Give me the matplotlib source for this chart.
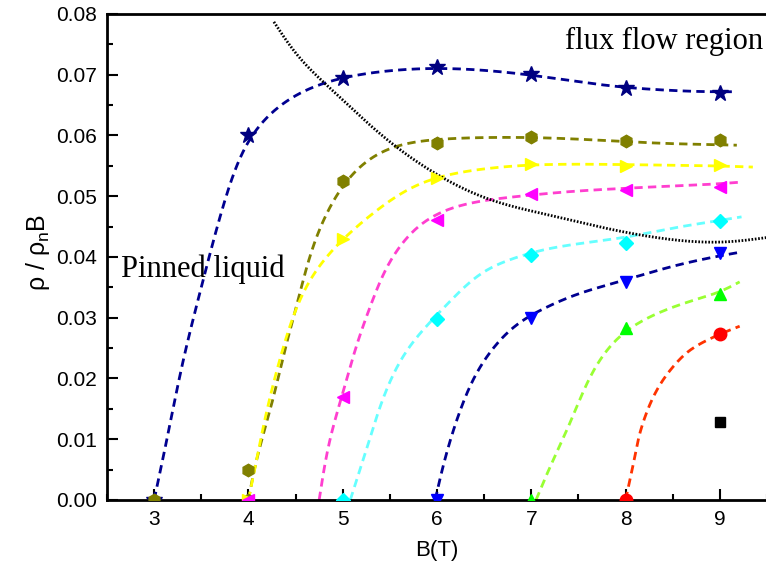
import numpy as np
import matplotlib
matplotlib.use("Agg")
import matplotlib.pyplot as plt
from matplotlib.ticker import MultipleLocator, FormatStrFormatter

plt.rcParams['font.family'] = ['Liberation Sans', 'DejaVu Sans']
plt.rcParams['mathtext.default'] = 'regular'

# ---- measured points (field B in T, normalised resistivity) ----
star_B = [3, 4, 5, 6, 7, 8, 9]
star_r = [0.0, 0.0601, 0.0695, 0.0713, 0.0701, 0.0678, 0.0670]

hex_B = [3, 4, 4, 5, 6, 7, 8, 9]
hex_r = [0.0, 0.0, 0.0049, 0.0525, 0.0588, 0.0597, 0.0591, 0.0593]

tri_r_B = [4, 5, 6, 7, 8, 9]
tri_r_r = [0.0, 0.0430, 0.0530, 0.0553, 0.0549, 0.0551]

tri_l_B = [4, 5, 6, 7, 8, 9]
tri_l_r = [0.0, 0.0170, 0.0461, 0.0503, 0.0511, 0.0515]

dia_B = [5, 6, 7, 8, 9]
dia_r = [0.0, 0.0298, 0.0403, 0.0423, 0.0460]

tri_d_B = [6, 7, 8, 9]
tri_d_r = [0.0, 0.0300, 0.0359, 0.0406]

tri_u_B = [7, 8, 9]
tri_u_r = [0.0, 0.0283, 0.0339]

circ_B = [8, 9]
circ_r = [0.0, 0.0273]

sq_B = [9]
sq_r = [0.0129]

# ---- guide curves (knots along each dashed line) ----
star_fit_B = [3.0, 3.15, 3.29, 3.5, 3.74, 4.0, 4.27, 4.6, 5.0, 5.5, 6.0, 6.5, 7.0, 7.5, 8.0, 8.5, 9.0, 9.18]
star_fit_r = [0.0, 0.011, 0.022, 0.035, 0.049, 0.0603, 0.0647, 0.0680, 0.0697, 0.0708, 0.0712, 0.0708,
              0.0700, 0.0688, 0.0678, 0.0674, 0.0670, 0.0672]

hex_fit_B = [4.0, 4.06, 4.13, 4.27, 4.38, 4.52, 4.63, 4.80, 4.95, 5.22, 5.58, 6.0, 6.46, 7.0, 7.5, 8.0, 8.5, 9.0, 9.18]
hex_fit_r = [0.0, 0.0055, 0.0095, 0.0168, 0.0247, 0.0322, 0.0395, 0.0466, 0.0510, 0.0560, 0.0588, 0.0594,
             0.0597, 0.0597, 0.0594, 0.0590, 0.0586, 0.0585, 0.0584]

tri_r_fit_B = [4.0, 4.1, 4.2, 4.31, 4.42, 4.63, 4.95, 5.4, 5.75, 6.0, 6.46, 7.0, 7.5, 8.0, 8.5, 9.0, 9.35]
tri_r_fit_r = [0.0, 0.0077, 0.0153, 0.0219, 0.0280, 0.0362, 0.0423, 0.0482, 0.0520, 0.0533, 0.0545,
               0.0552, 0.0553, 0.0552, 0.0551, 0.0550, 0.0548]

tri_l_fit_B = [4.75, 4.84, 5.0, 5.16, 5.33, 5.47, 5.61, 5.72, 5.86, 6.0, 6.22, 6.57, 7.0, 7.5, 8.0, 8.5, 9.0, 9.21]
tri_l_fit_r = [0.0, 0.0087, 0.0175, 0.0263, 0.0334, 0.0390, 0.0420, 0.0444, 0.0462, 0.0474, 0.0486,
               0.0495, 0.0502, 0.0509, 0.0513, 0.0517, 0.0520, 0.0523]

dia_fit_B = [5.08, 5.26, 5.43, 5.65, 6.0, 6.22, 6.49, 6.85, 7.1, 7.5, 8.0, 8.5, 9.0, 9.23]
dia_fit_r = [0.0, 0.0087, 0.0170, 0.0242, 0.0305, 0.0340, 0.0379, 0.0400, 0.0412, 0.0422, 0.0432,
             0.0448, 0.0460, 0.0466]

tri_d_fit_B = [5.98, 6.07, 6.22, 6.39, 6.6, 6.85, 7.1, 7.5, 8.0, 8.5, 9.0, 9.22]
tri_d_fit_r = [0.0, 0.006, 0.0137, 0.0202, 0.0252, 0.0291, 0.0313, 0.0340, 0.0362, 0.0385, 0.0402, 0.0408]

tri_u_fit_B = [7.05, 7.2, 7.35, 7.5, 7.62, 7.8, 8.0, 8.33, 8.7, 9.0, 9.21]
tri_u_fit_r = [0.0, 0.0055, 0.0105, 0.0160, 0.0202, 0.0247, 0.0278, 0.0307, 0.0328, 0.0342, 0.0359]

circ_fit_B = [8.0, 8.07, 8.15, 8.33, 8.5, 8.68, 8.85, 9.0, 9.21]
circ_fit_r = [0.0, 0.005, 0.011, 0.0181, 0.0219, 0.0247, 0.0262, 0.0273, 0.0286]

# boundary between pinned liquid and flux flow
bound_B = [4.27, 4.52, 4.77, 4.98, 5.22, 5.58, 6.0, 6.46, 6.81, 7.2, 7.62, 8.15, 8.68, 9.0, 9.5]
bound_r = [0.0787, 0.0729, 0.0691, 0.0662, 0.0626, 0.0579, 0.0535, 0.0499, 0.0482, 0.0469,
           0.0453, 0.0436, 0.0425, 0.0423, 0.0432]


def pchip(x, y, n=600):
    """Shape-preserving piecewise cubic Hermite interpolation."""
    x = np.asarray(x, float)
    y = np.asarray(y, float)
    h = np.diff(x)
    d = np.diff(y) / h
    m = np.zeros_like(y)
    for k in range(1, len(x) - 1):
        if d[k - 1] * d[k] > 0:
            w1 = 2 * h[k] + h[k - 1]
            w2 = h[k] + 2 * h[k - 1]
            m[k] = (w1 + w2) / (w1 / d[k - 1] + w2 / d[k])
    m[0] = d[0]
    m[-1] = d[-1]
    xs = np.linspace(x[0], x[-1], n)
    idx = np.clip(np.searchsorted(x, xs) - 1, 0, len(h) - 1)
    t = (xs - x[idx]) / h[idx]
    h00 = 2 * t**3 - 3 * t**2 + 1
    h10 = t**3 - 2 * t**2 + t
    h01 = -2 * t**3 + 3 * t**2
    h11 = t**3 - t**2
    ys = (h00 * y[idx] + h10 * h[idx] * m[idx] + h01 * y[idx + 1] + h11 * h[idx] * m[idx + 1])
    return xs, ys


def smooth_curve(x, y, sx=1 / 7.0, sy=1 / 0.08 * 0.74, sigma_frac=0.035, n=500):
    """Interpolate the knots, then soften the path with a Gaussian along its arc length."""
    xs, ys = pchip(x, y)
    u, v = xs * sx, ys * sy
    s = np.concatenate([[0], np.cumsum(np.hypot(np.diff(u), np.diff(v)))])
    su = np.linspace(0, s[-1], n)
    xu = np.interp(su, s, xs)
    yu = np.interp(su, s, ys)
    sig = sigma_frac * n
    half = int(3 * sig)
    k = np.exp(-0.5 * (np.arange(-half, half + 1) / sig) ** 2)
    k /= k.sum()

    def filt(a):
        left = 2 * a[0] - a[1:half + 1][::-1]
        right = 2 * a[-1] - a[-half - 1:-1][::-1]
        return np.convolve(np.concatenate([left, a, right]), k, mode='valid')

    return filt(xu), filt(yu)


fig = plt.figure(figsize=(7.66, 5.72), dpi=100)
ax = fig.add_axes([0.1397, 0.1259, 0.8616, 0.8497])

dash = (3.0, 1.9)
lw = 2.0
ms = 9

series = [
    (star_fit_B, star_fit_r, star_B, star_r, '#000090', '#000080', '*', ms + 3),
    (hex_fit_B, hex_fit_r, hex_B, hex_r, '#808000', '#808000', 'h', ms),
    (tri_r_fit_B, tri_r_fit_r, tri_r_B, tri_r_r, '#FFFF00', '#FFFF00', '>', ms),
    (tri_l_fit_B, tri_l_fit_r, tri_l_B, tri_l_r, '#FF3FCF', '#FF00FF', '<', ms),
    (dia_fit_B, dia_fit_r, dia_B, dia_r, '#66FFFF', '#00FFFF', 'D', ms - 1.5),
    (tri_d_fit_B, tri_d_fit_r, tri_d_B, tri_d_r, '#000090', '#0000FF', 'v', ms),
    (tri_u_fit_B, tri_u_fit_r, tri_u_B, tri_u_r, '#99FF33', '#00FF00', '^', ms),
    (circ_fit_B, circ_fit_r, circ_B, circ_r, '#FF3300', '#FF0000', 'o', ms),
]

for z, (fb, fr, pb, pr, lc, mc, mk, size) in enumerate(series):
    xs, ys = smooth_curve(fb, fr)
    ax.plot(xs, ys, color=lc, lw=lw, dashes=dash, zorder=2 + z * 0.01)
    ax.plot(pb, pr, ls='none', marker=mk, ms=size, color=mc, mec=mc, zorder=3 + z * 0.01)

ax.plot(sq_B, sq_r, ls='none', marker='s', ms=7, color='black', zorder=4)

xb, yb = smooth_curve(bound_B, bound_r)
ax.plot(xb, yb, color='black', lw=2.0, dashes=(0.6, 0.6), zorder=2.5)

ax.text(7.36, 0.0755, 'flux flow region', family='Liberation Serif', fontsize=22,
        va='center', ha='left')
ax.text(2.65, 0.0380, 'Pinned liquid', family='Liberation Serif', fontsize=22,
        va='center', ha='left')

ax.set_xlim(2.5, 9.5)
ax.set_ylim(0.0, 0.08)
ax.xaxis.set_major_locator(MultipleLocator(1))
ax.xaxis.set_minor_locator(MultipleLocator(0.5))
ax.yaxis.set_major_locator(MultipleLocator(0.01))
ax.yaxis.set_minor_locator(MultipleLocator(0.005))
ax.yaxis.set_major_formatter(FormatStrFormatter('%.2f'))

ax.tick_params(which='both', direction='in', top=False, right=False, width=1.5, labelsize=15)
ax.tick_params(which='major', length=8)
ax.tick_params(which='minor', length=4.5)
ax.tick_params(axis='x', pad=7)
ax.tick_params(axis='y', pad=7)

for s in ['left', 'bottom', 'top']:
    ax.spines[s].set_linewidth(2)
ax.spines['right'].set_visible(False)

ax.set_xlabel('B(T)', fontsize=16)
ax.set_ylabel(r'ρ / ρ$_n$B', fontsize=18)
ax.xaxis.set_label_coords(0.5, -0.082)
ax.yaxis.set_label_coords(-0.083, 0.51)

fig.savefig('out.png', dpi=100)
